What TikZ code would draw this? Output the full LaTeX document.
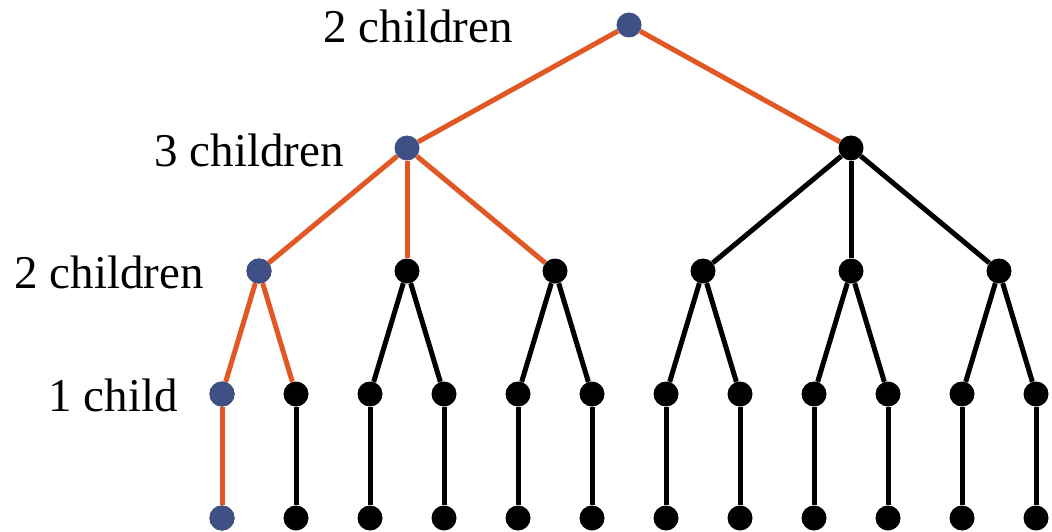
\documentclass[tikz,border=0pt]{standalone}
\usepackage{fontspec}
\setmainfont{Liberation Serif}
\definecolor{edgeorange}{RGB}{225,88,36}
\definecolor{dotblue}{RGB}{62,80,134}
\begin{document}
\begin{tikzpicture}[x=1pt,y=-1pt,
  dotk/.style={circle,fill=black,minimum size=25pt,inner sep=0pt},
  dotb/.style={circle,fill=dotblue,minimum size=25pt,inner sep=0pt},
  ek/.style={line width=5pt,black},
  eo/.style={line width=5pt,edgeorange},
  lbl/.style={font=\fontsize{47}{50}\selectfont,anchor=base east,inner sep=0pt}]
\useasboundingbox (0,0) rectangle (1052,532);
% dots
\node[dotb] (r) at (629,25) {};
\node[dotb] (a) at (407,148) {};
\node[dotk] (b) at (851,148) {};
\foreach \i/\x in {1/259,2/407,3/555,4/703,5/851,6/999}{
  \node[dotk] (m\i) at (\x,271) {};
}
\node[dotb] (m1) at (259,271) {};
\foreach \i in {1,...,12}{
  \pgfmathsetmacro{\xx}{222+74*(\i-1)}
  \node[dotk] (p\i) at (\xx,394) {};
  \node[dotk] (q\i) at (\xx,518) {};
}
\node[dotb] (p1) at (222,394) {};
\node[dotb] (q1) at (222,518) {};
% edges
\draw[eo] (r) -- (a);
\draw[eo] (r) -- (b);
\draw[eo] (a) -- (m1);
\draw[eo] (a) -- (m2);
\draw[eo] (a) -- (m3);
\draw[ek] (b) -- (m4);
\draw[ek] (b) -- (m5);
\draw[ek] (b) -- (m6);
\draw[eo] (m1) -- (p1);
\draw[eo] (m1) -- (p2);
\foreach \i/\j/\k in {2/3/4,3/5/6,4/7/8,5/9/10,6/11/12}{
  \draw[ek] (m\i) -- (p\j);
  \draw[ek] (m\i) -- (p\k);
}
\draw[eo] (p1) -- (q1);
\foreach \i in {2,...,12}{
  \draw[ek] (p\i) -- (q\i);
}
% labels
\node[lbl] (t1) at (513,43) {2 children};
\node[lbl] (t2) at (344,167) {3 children};
\node[lbl] (t3) at (204,288) {2 children};
\node[lbl] (t4) at (178,411) {1 child};
\end{tikzpicture}
\end{document}
